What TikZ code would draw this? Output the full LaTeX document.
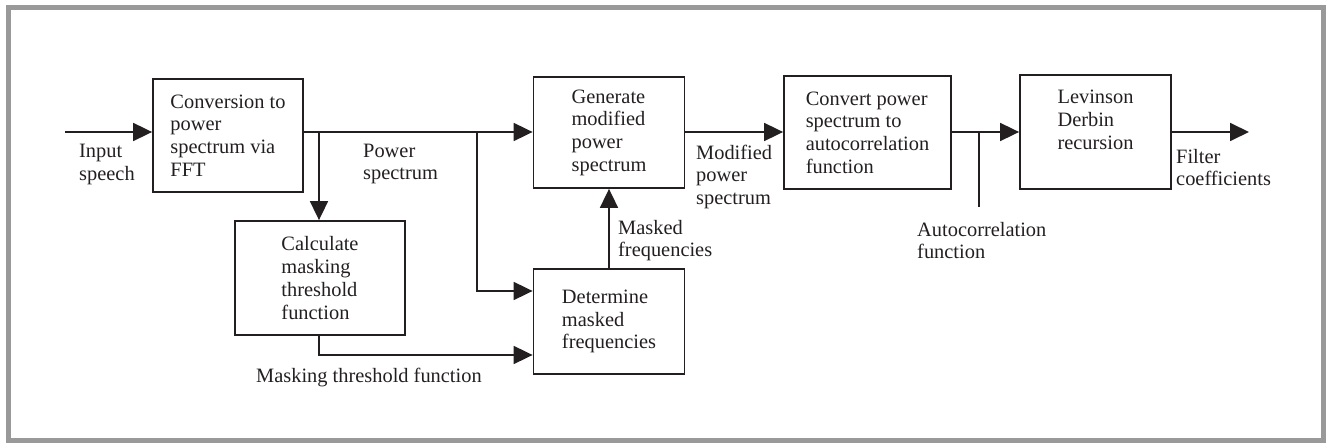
\documentclass[tikz,border=0pt]{standalone}
\usepackage{fontspec}
\setmainfont{Liberation Serif}
\usetikzlibrary{arrows.meta}
\definecolor{framegray}{RGB}{153,153,153}
\definecolor{ink}{RGB}{35,31,32}
\begin{document}
\begin{tikzpicture}[x=1pt,y=-1pt,
  every node/.style={font=\fontsize{20.4}{22.7}\selectfont, text=ink},
  blockbox/.style={draw=ink, line width=1.8pt, inner sep=0pt, align=left},
  lbl/.style={anchor=base west, inner sep=0pt, align=left},
  arr/.style={draw=ink, line width=1.8pt, -{Triangle[length=19pt,width=18pt]}},
  ln/.style={draw=ink, line width=1.8pt}]
\useasboundingbox (0,0) rectangle (1326,443);
\draw[framegray, line width=5pt] (8.5,7.5) rectangle (1323.5,440.5);

% blocks
\node[blockbox, minimum width=150pt, minimum height=113pt] (conv) at (228,135.5)
  {Conversion to\\power\\spectrum via\\FFT};
\node[blockbox, minimum width=170pt, minimum height=114pt] (calc) at (320,278)
  {Calculate\\masking\\threshold\\function};
\node[blockbox, minimum width=151pt, minimum height=111pt] (gen) at (609,132.5)
  {Generate\\modified\\power\\spectrum};
\node[blockbox, minimum width=151pt, minimum height=105pt] (det) at (609,321.5)
  {Determine\\masked\\frequencies};
\node[blockbox, minimum width=167pt, minimum height=113pt] (convac) at (867.5,132.5)
  {Convert power\\spectrum to\\autocorrelation\\function};
\node[blockbox, minimum width=151pt, minimum height=114pt] (lev) at (1095.5,132) {};
\node[inner sep=0pt, align=left] (levtext) at (1095.5,120) {Levinson\\Derbin\\recursion};

% connector helper points
\coordinate (inp) at (65,132);
\coordinate (b1) at (319,132);
\coordinate (b2) at (477,132);
\coordinate (d1) at (477,291);
\coordinate (d2) at (319,355);
\coordinate (ac) at (979,207);
\coordinate (out) at (1249,132);

% connectors
\draw[arr] (inp) -- (inp -| conv.west);
\draw[arr] (conv.east |- inp) -- (inp -| gen.west);
\draw[arr] (b1) -- (b1 |- calc.north);
\draw[arr] (b2) -- (d1) -- (d1 -| det.west);
\draw[arr] (d2 |- calc.south) -- (d2) -- (d2 -| det.west);
\draw[arr] (det.north) -- (gen.south);
\draw[arr] (gen.east |- inp) -- (inp -| convac.west);
\draw[arr] (convac.east |- inp) -- (inp -| lev.west);
\draw[ln] (ac |- inp) -- (ac);
\draw[arr] (lev.east |- inp) -- (out);

% labels (base = baseline of last line)
\node[lbl] (linput) at (79,180.5) {Input\\speech};
\node[lbl] (lpower) at (363,180) {Power\\spectrum};
\node[lbl] (lmask) at (256,383) {Masking threshold function};
\node[lbl] (lmasked) at (618,257) {Masked\\frequencies};
\node[lbl] (lmod) at (696,204.5) {Modified\\power\\spectrum};
\node[lbl] (lauto) at (917,259) {Autocorrelation\\function};
\node[lbl] (lfilt) at (1176,186) {Filter\\coefficients};
\end{tikzpicture}
\end{document}
